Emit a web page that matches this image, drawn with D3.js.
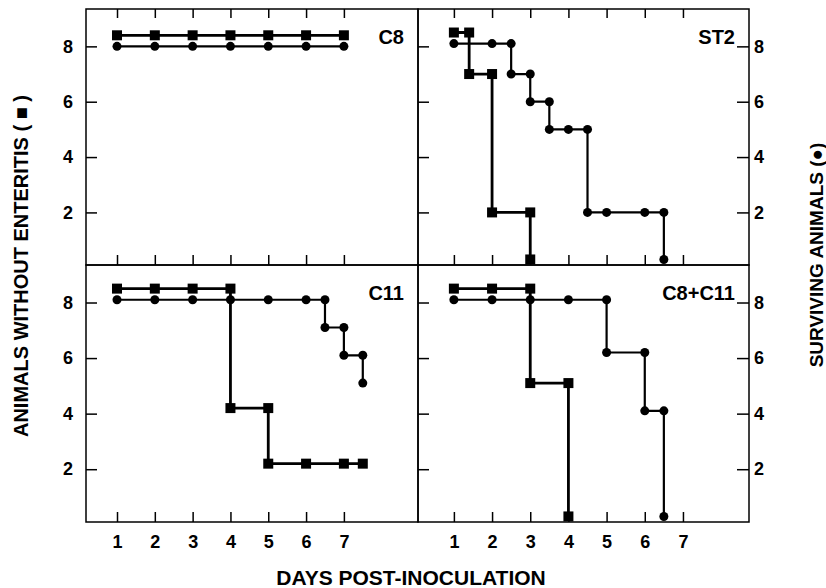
<!DOCTYPE html>
<meta charset="utf-8"/>
<style>
  body { margin: 0; background: #fff; }
  svg text { font-family: "Liberation Sans", Arial, sans-serif; font-weight: bold; fill: #000; }
</style>
<svg width="826" height="588"></svg>
<script src="https://d3js.org/d3.v7.min.js"></script>
<script>

// days on the x axis and counts on the y axis
var dayTicks = [1, 2, 3, 4, 5, 6, 7];
var countTicks = [2, 4, 6, 8];
var panelNames = ["C8", "ST2", "C11", "C8+C11"];

// [day, animals] vertices; a count of 0 is drawn on the floor of the panel (0.3)
var c8Enteritis = [[1, 8.4], [2, 8.4], [3, 8.4], [4, 8.4], [5, 8.4], [6, 8.4], [7, 8.4]];
var c8Surviving = [[1, 8], [2, 8], [3, 8], [4, 8], [5, 8], [6, 8], [7, 8]];

var st2Enteritis = [[1, 8.5], [1.4, 8.5], [1.4, 7], [2, 7], [2, 2], [3, 2], [3, 0.3]];
var st2Surviving = [[1, 8.1], [2, 8.1], [2.5, 8.1], [2.5, 7], [3, 7], [3, 6], [3.5, 6], [3.5, 5],
                    [4, 5], [4.5, 5], [4.5, 2], [5, 2], [6, 2], [6.5, 2], [6.5, 0.3]];

var c11Enteritis = [[1, 8.5], [2, 8.5], [3, 8.5], [4, 8.5], [4, 4.2], [5, 4.2], [5, 2.2],
                    [6, 2.2], [7, 2.2], [7.5, 2.2]];
var c11Surviving = [[1, 8.1], [2, 8.1], [3, 8.1], [4, 8.1], [5, 8.1], [6, 8.1], [6.5, 8.1],
                    [6.5, 7.1], [7, 7.1], [7, 6.1], [7.5, 6.1], [7.5, 5.1]];

var mixEnteritis = [[1, 8.5], [2, 8.5], [3, 8.5], [3, 5.1], [4, 5.1], [4, 0.3]];
var mixSurviving = [[1, 8.1], [2, 8.1], [3, 8.1], [4, 8.1], [5, 8.1], [5, 6.2], [6, 6.2],
                    [6, 4.1], [6.5, 4.1], [6.5, 0.3]];

var svg = d3.select("svg");

var cols = [[86, 418], [418, 749]],
    rows = [[9, 265], [265, 522]];

var xs = [
  d3.scaleLinear().domain([0.18, 8.96]).range(cols[0]),
  d3.scaleLinear().domain([0.06, 8.73]).range(cols[1])
];
var ys = rows.map(function(r) {
  return d3.scaleLinear().domain([0.1, 9.35]).range([r[1], r[0]]);
});

var panels = [
  {name: panelNames[0], col: 0, row: 0, squares: c8Enteritis, circles: c8Surviving},
  {name: panelNames[1], col: 1, row: 0, squares: st2Enteritis, circles: st2Surviving},
  {name: panelNames[2], col: 0, row: 1, squares: c11Enteritis, circles: c11Surviving},
  {name: panelNames[3], col: 1, row: 1, squares: mixEnteritis, circles: mixSurviving}
];

function styleAxis(g) {
  g.select(".domain").remove();
  g.selectAll("line").attr("stroke", "#000").attr("stroke-width", 1.5);
  g.selectAll("text").attr("font-size", "18px").attr("font-family", null);
}

panels.forEach(function(p) {
  var x = xs[p.col], y = ys[p.row];
  var g = svg.append("g");

  // inward ticks
  g.append("g")
      .attr("transform", "translate(0," + y.range()[0] + ")")
      .call(d3.axisBottom(x).tickValues(dayTicks).tickSize(-10).tickPadding(13)
        .tickFormat(p.row == 1 ? d3.format("d") : ""))
      .call(styleAxis);
  if (p.row == 0) {
    g.append("g")
        .attr("transform", "translate(0," + y.range()[1] + ")")
        .call(d3.axisTop(x).tickValues(dayTicks).tickSize(-9).tickFormat(""))
        .call(styleAxis);
  }
  g.append("g")
      .attr("transform", "translate(" + x.range()[0] + ",0)")
      .call(d3.axisLeft(y).tickValues(countTicks).tickSize(-11).tickPadding(13)
        .tickFormat(p.col == 0 ? d3.format("d") : ""))
      .call(styleAxis);
  if (p.col == 1) {
    g.append("g")
        .attr("transform", "translate(" + x.range()[1] + ",0)")
        .call(d3.axisRight(y).tickValues(countTicks).tickSize(-12).tickPadding(5))
        .call(styleAxis);
  }

  g.append("rect")
      .attr("x", x.range()[0])
      .attr("y", y.range()[1])
      .attr("width", x.range()[1] - x.range()[0])
      .attr("height", y.range()[0] - y.range()[1])
      .attr("fill", "none")
      .attr("stroke", "#000")
      .attr("stroke-width", 1.5);

  var line = d3.line()
      .x(function(d) { return x(d[0]); })
      .y(function(d) { return y(d[1]); });

  g.append("path")
      .datum(p.circles)
      .attr("fill", "none")
      .attr("stroke", "#000")
      .attr("stroke-width", 2.2)
      .attr("d", line);

  g.append("path")
      .datum(p.squares)
      .attr("fill", "none")
      .attr("stroke", "#000")
      .attr("stroke-width", 2.8)
      .attr("d", line);

  g.selectAll("circle")
      .data(p.circles)
    .enter().append("circle")
      .attr("cx", function(d) { return x(d[0]); })
      .attr("cy", function(d) { return y(d[1]); })
      .attr("r", 4.5)
      .attr("fill", "#000");

  g.selectAll(".sq")
      .data(p.squares)
    .enter().append("rect")
      .attr("class", "sq")
      .attr("x", function(d) { return x(d[0]) - 5; })
      .attr("y", function(d) { return y(d[1]) - 5; })
      .attr("width", 10)
      .attr("height", 10)
      .attr("fill", "#000");

  g.append("text")
      .attr("x", x.range()[1] - 14)
      .attr("y", y.range()[1] + 35)
      .attr("text-anchor", "end")
      .style("font-size", "20px")
      .text(p.name);
});

// axis titles
svg.append("text")
    .attr("transform", "translate(28,266) rotate(-90)")
    .attr("text-anchor", "middle")
    .style("font-size", "20px")
    .text("ANIMALS WITHOUT ENTERITIS ( \u25A0 )");

svg.append("text")
    .attr("transform", "translate(823,255) rotate(-90)")
    .attr("text-anchor", "middle")
    .style("font-size", "19px")
    .text("SURVIVING ANIMALS (\u25CF)");

svg.append("text")
    .attr("x", 411)
    .attr("y", 585)
    .attr("text-anchor", "middle")
    .style("font-size", "21px")
    .text("DAYS POST-INOCULATION");

</script>
